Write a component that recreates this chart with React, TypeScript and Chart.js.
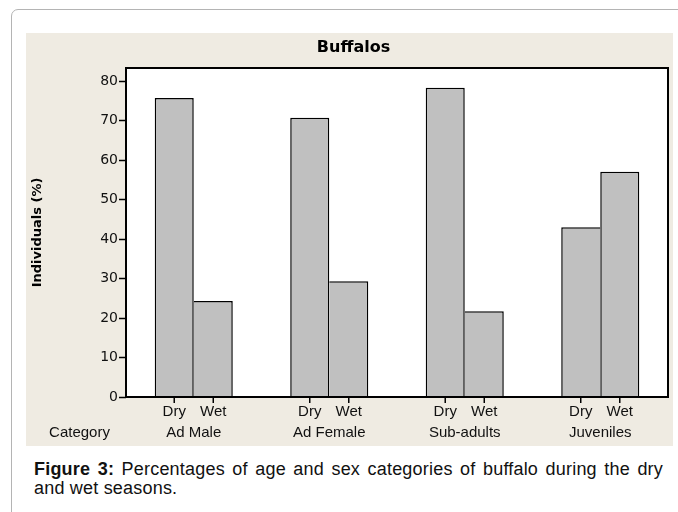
import React, { useEffect, useRef } from "react";
import { Chart, registerables } from "chart.js";

Chart.register(...registerables);

// ---- data ----
const categories = ["Ad Male", "Ad Female", "Sub-adults", "Juveniles"];
const seasons = ["Dry", "Wet"];
const dryValues = [75.7, 70.7, 78.3, 43.0];
const wetValues = [24.3, 29.3, 21.7, 57.0];
const yTickValues = [0, 10, 20, 30, 40, 50, 60, 70, 80];
const yMax = 83.3;
const chartTitle = "Buffalos";
const yAxisTitle = "Individuals (%)";
const xAxisTitle = "Category";
const captionBold = "Figure 3:";
const captionText =
  " Percentages of age and sex categories of buffalo during the dry and wet seasons.";

const SANS = "'Liberation Sans', Arial, sans-serif";
const DEJA = "'DejaVu Sans', Verdana, sans-serif";

const framePlugin = {
  id: "frame",
  beforeDraw(chart: any) {
    const { ctx, chartArea: a } = chart;
    ctx.save();
    ctx.fillStyle = "#ffffff";
    ctx.fillRect(a.left, a.top, a.right - a.left, a.bottom - a.top);
    ctx.restore();
  },
  afterDraw(chart: any) {
    const { ctx, chartArea: a } = chart;
    ctx.save();
    // plot frame
    ctx.strokeStyle = "#000";
    ctx.lineWidth = 2;
    ctx.strokeRect(a.left, a.top, a.right - a.left, a.bottom - a.top);
    // season ticks and labels under each bar
    ctx.font = `15px ${SANS}`;
    ctx.fillStyle = "#111";
    ctx.textAlign = "center";
    ctx.textBaseline = "middle";
    chart.data.datasets.forEach((ds: any, di: number) => {
      const meta = chart.getDatasetMeta(di);
      meta.data.forEach((bar: any) => {
        ctx.lineWidth = 1.5;
        ctx.beginPath();
        ctx.moveTo(bar.x, a.bottom);
        ctx.lineTo(bar.x, a.bottom + 6);
        ctx.stroke();
        ctx.fillText(ds.label, bar.x, a.bottom + 15);
      });
    });
    // x-axis name on the category row
    ctx.fillText(xAxisTitle, 53.5, a.bottom + 36);
    // chart title
    ctx.font = `bold 16px ${DEJA}`;
    ctx.fillStyle = "#000";
    ctx.fillText(chartTitle, chart.width / 2 + 4, 15);
    ctx.restore();
  },
};

export default function App() {
  const ref = useRef<HTMLCanvasElement | null>(null);

  useEffect(() => {
    if (!ref.current) return;
    const borderFor = (ds: number) => (c: any) => {
      const i = c.dataIndex;
      const dry = dryValues[i];
      const wet = wetValues[i];
      if (ds === 0)
        return { top: 1.5, left: 1.5, right: wet > dry ? 0 : 1.5, bottom: 0 };
      return { top: 1.5, right: 1.5, left: wet > dry ? 1.5 : 0, bottom: 0 };
    };
    const chart = new Chart(ref.current, {
      type: "bar",
      data: {
        labels: categories,
        datasets: [
          {
            label: seasons[0],
            data: dryValues,
            backgroundColor: "#c0c0c0",
            borderColor: "#000",
            borderWidth: borderFor(0) as any,
            categoryPercentage: 0.576,
            barPercentage: 1,
          },
          {
            label: seasons[1],
            data: wetValues,
            backgroundColor: "#c0c0c0",
            borderColor: "#000",
            borderWidth: borderFor(1) as any,
            categoryPercentage: 0.576,
            barPercentage: 1,
          },
        ],
      },
      options: {
        responsive: false,
        animation: false,
        layout: { padding: { left: 0, right: 5, top: 35, bottom: 0 } },
        plugins: {
          legend: { display: false },
          title: { display: false },
          tooltip: { enabled: false },
        },
        scales: {
          x: {
            type: "category",
            offset: true,
            grid: { display: false, drawTicks: false },
            border: { display: false },
            ticks: {
              font: { family: SANS, size: 15 },
              color: "#111",
              padding: 27,
              maxRotation: 0,
              autoSkip: false,
            },
            afterFit: (s: any) => {
              s.height = 49;
            },
          },
          y: {
            min: 0,
            max: yMax,
            afterBuildTicks: (s: any) => {
              s.ticks = yTickValues.map((v) => ({ value: v }));
            },
            grid: {
              drawOnChartArea: false,
              drawTicks: true,
              tickLength: 7,
              tickColor: "#000",
              tickWidth: 1.5,
            },
            border: { display: false },
            ticks: {
              font: { family: DEJA, size: 14 },
              color: "#111",
              padding: 1,
            },
            title: {
              display: true,
              text: yAxisTitle,
              font: { family: DEJA, size: 13, weight: "bold" },
              color: "#000",
              padding: { top: 4, bottom: 0 },
            },
            afterFit: (s: any) => {
              s.width = 100;
            },
          },
        },
      } as any,
      plugins: [framePlugin],
    });
    return () => chart.destroy();
  }, []);

  return (
    <div
      style={{
        position: "absolute",
        left: 0,
        top: 0,
        width: 678,
        height: 512,
        overflow: "hidden",
        background: "#fff",
      }}
    >
      <div
        style={{
          position: "absolute",
          left: 11,
          top: 9,
          width: 720,
          height: 620,
          border: "1.5px solid #b4b4b4",
          borderRadius: 7,
          boxSizing: "border-box",
        }}
      />
      <div
        style={{
          position: "absolute",
          left: 26,
          top: 33,
          width: 647,
          height: 413,
          background: "#efebe2",
        }}
      >
        <canvas ref={ref} width={647} height={413} style={{ display: "block" }} />
      </div>
      <div
        style={{
          position: "absolute",
          left: 34,
          top: 460,
          width: 629,
          font: `18px ${SANS}`,
          lineHeight: "19px",
          letterSpacing: "0.2px",
          textAlign: "justify",
          color: "#111",
        }}
      >
        <b>{captionBold}</b>
        {captionText}
      </div>
    </div>
  );
}
